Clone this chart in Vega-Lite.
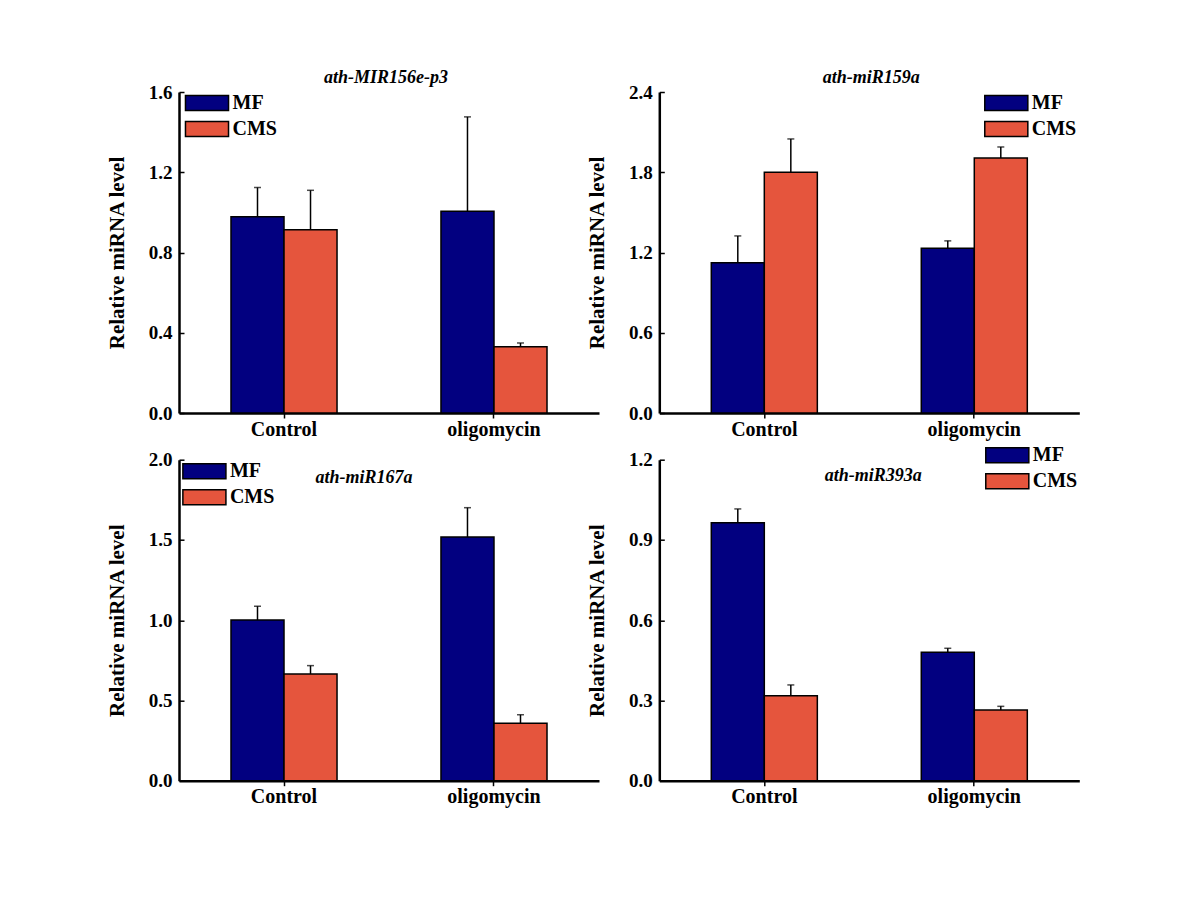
{
  "$schema": "https://vega.github.io/schema/vega-lite/v6.json",
  "background": "white",
  "padding": {"left": 106, "top": 68, "right": 5, "bottom": 5},
  "datasets": {
    "mirna": [
      {"panel": "ath-MIR156e-p3", "group": "Control", "strain": "MF", "value": 0.978, "upper": 1.124},
      {"panel": "ath-MIR156e-p3", "group": "Control", "strain": "CMS", "value": 0.913, "upper": 1.110},
      {"panel": "ath-MIR156e-p3", "group": "oligomycin", "strain": "MF", "value": 1.006, "upper": 1.476},
      {"panel": "ath-MIR156e-p3", "group": "oligomycin", "strain": "CMS", "value": 0.330, "upper": 0.349},
      {"panel": "ath-miR159a", "group": "Control", "strain": "MF", "value": 1.123, "upper": 1.324},
      {"panel": "ath-miR159a", "group": "Control", "strain": "CMS", "value": 1.800, "upper": 2.049},
      {"panel": "ath-miR159a", "group": "oligomycin", "strain": "MF", "value": 1.232, "upper": 1.287},
      {"panel": "ath-miR159a", "group": "oligomycin", "strain": "CMS", "value": 1.907, "upper": 1.989},
      {"panel": "ath-miR167a", "group": "Control", "strain": "MF", "value": 1.001, "upper": 1.087},
      {"panel": "ath-miR167a", "group": "Control", "strain": "CMS", "value": 0.665, "upper": 0.717},
      {"panel": "ath-miR167a", "group": "oligomycin", "strain": "MF", "value": 1.518, "upper": 1.701},
      {"panel": "ath-miR167a", "group": "oligomycin", "strain": "CMS", "value": 0.358, "upper": 0.411},
      {"panel": "ath-miR393a", "group": "Control", "strain": "MF", "value": 0.964, "upper": 1.016},
      {"panel": "ath-miR393a", "group": "Control", "strain": "CMS", "value": 0.318, "upper": 0.358},
      {"panel": "ath-miR393a", "group": "oligomycin", "strain": "MF", "value": 0.480, "upper": 0.495},
      {"panel": "ath-miR393a", "group": "oligomycin", "strain": "CMS", "value": 0.264, "upper": 0.278}
    ]
  },
  "columns": 2,
  "spacing": {"row": 46.7, "column": 60.3},
  "bounds": "flush",
  "resolve": {"scale": {"y": "independent", "color": "independent"}, "legend": {"color": "independent"}},
  "concat": [
    {
      "width": 420, "height": 321,
      "data": {"name": "mirna"},
      "transform": [{"filter": "datum.panel === 'ath-MIR156e-p3'"}],
      "title": {"text": "ath-MIR156e-p3", "dx": -3, "dy": 15.8},
      "encoding": {
        "x": {"field": "group", "type": "nominal", "sort": ["Control", "oligomycin"], "scale": {"paddingInner": 0.495, "paddingOuter": 0.2476}},
        "xOffset": {"field": "strain", "type": "nominal", "sort": ["MF", "CMS"], "scale": {"paddingInner": 0, "paddingOuter": 0}}
      },
      "layer": [
        {"mark": {"type": "bar", "stroke": "black", "strokeWidth": 1.5},
         "encoding": {
           "y": {"field": "value", "type": "quantitative", "title": "Relative miRNA level", "scale": {"domain": [0, 1.6], "nice": false}, "axis": {"values": [0, 0.4, 0.8, 1.2, 1.6]}},
           "color": {"field": "strain", "type": "nominal", "sort": ["MF", "CMS"], "scale": {"domain": ["MF", "CMS"], "range": ["#020080", "#E5553D"]}, "legend": {"legendX": 18, "legendY": 1.1}}
         }},
        {"mark": {"type": "rule", "color": "black", "strokeWidth": 1.5},
         "encoding": {"y": {"field": "value", "type": "quantitative"}, "y2": {"field": "upper"}}},
        {"mark": {"type": "tick", "color": "black", "size": 7, "thickness": 1.5},
         "encoding": {"y": {"field": "upper", "type": "quantitative"}}}
      ]
    },
    {
      "width": 420, "height": 321,
      "data": {"name": "mirna"},
      "transform": [{"filter": "datum.panel === 'ath-miR159a'"}],
      "title": {"text": "ath-miR159a", "dx": 2, "dy": 15.8},
      "encoding": {
        "x": {"field": "group", "type": "nominal", "sort": ["Control", "oligomycin"], "scale": {"paddingInner": 0.495, "paddingOuter": 0.2476}},
        "xOffset": {"field": "strain", "type": "nominal", "sort": ["MF", "CMS"], "scale": {"paddingInner": 0, "paddingOuter": 0}}
      },
      "layer": [
        {"mark": {"type": "bar", "stroke": "black", "strokeWidth": 1.5},
         "encoding": {
           "y": {"field": "value", "type": "quantitative", "title": "Relative miRNA level", "scale": {"domain": [0, 2.4], "nice": false}, "axis": {"values": [0, 0.6, 1.2, 1.8, 2.4]}},
           "color": {"field": "strain", "type": "nominal", "sort": ["MF", "CMS"], "scale": {"domain": ["MF", "CMS"], "range": ["#020080", "#E5553D"]}, "legend": {"legendX": 337, "legendY": 1.1}}
         }},
        {"mark": {"type": "rule", "color": "black", "strokeWidth": 1.5},
         "encoding": {"y": {"field": "value", "type": "quantitative"}, "y2": {"field": "upper"}}},
        {"mark": {"type": "tick", "color": "black", "size": 7, "thickness": 1.5},
         "encoding": {"y": {"field": "upper", "type": "quantitative"}}}
      ]
    },
    {
      "width": 420, "height": 321,
      "data": {"name": "mirna"},
      "transform": [{"filter": "datum.panel === 'ath-miR167a'"}],
      "title": {"text": "ath-miR167a", "dx": -25, "dy": 48.1},
      "encoding": {
        "x": {"field": "group", "type": "nominal", "sort": ["Control", "oligomycin"], "scale": {"paddingInner": 0.495, "paddingOuter": 0.2476}},
        "xOffset": {"field": "strain", "type": "nominal", "sort": ["MF", "CMS"], "scale": {"paddingInner": 0, "paddingOuter": 0}}
      },
      "layer": [
        {"mark": {"type": "bar", "stroke": "black", "strokeWidth": 1.5},
         "encoding": {
           "y": {"field": "value", "type": "quantitative", "title": "Relative miRNA level", "scale": {"domain": [0, 2.0], "nice": false}, "axis": {"values": [0, 0.5, 1.0, 1.5, 2.0]}},
           "color": {"field": "strain", "type": "nominal", "sort": ["MF", "CMS"], "scale": {"domain": ["MF", "CMS"], "range": ["#020080", "#E5553D"]}, "legend": {"legendX": 15.4, "legendY": 1.5}}
         }},
        {"mark": {"type": "rule", "color": "black", "strokeWidth": 1.5},
         "encoding": {"y": {"field": "value", "type": "quantitative"}, "y2": {"field": "upper"}}},
        {"mark": {"type": "tick", "color": "black", "size": 7, "thickness": 1.5},
         "encoding": {"y": {"field": "upper", "type": "quantitative"}}}
      ]
    },
    {
      "width": 420, "height": 321,
      "data": {"name": "mirna"},
      "transform": [{"filter": "datum.panel === 'ath-miR393a'"}],
      "title": {"text": "ath-miR393a", "dx": 4, "dy": 52.1},
      "encoding": {
        "x": {"field": "group", "type": "nominal", "sort": ["Control", "oligomycin"], "scale": {"paddingInner": 0.495, "paddingOuter": 0.2476}},
        "xOffset": {"field": "strain", "type": "nominal", "sort": ["MF", "CMS"], "scale": {"paddingInner": 0, "paddingOuter": 0}}
      },
      "layer": [
        {"mark": {"type": "bar", "stroke": "black", "strokeWidth": 1.5},
         "encoding": {
           "y": {"field": "value", "type": "quantitative", "title": "Relative miRNA level", "scale": {"domain": [0, 1.2], "nice": false}, "axis": {"values": [0, 0.3, 0.6, 0.9, 1.2]}},
           "color": {"field": "strain", "type": "nominal", "sort": ["MF", "CMS"], "scale": {"domain": ["MF", "CMS"], "range": ["#020080", "#E5553D"]}, "legend": {"legendX": 338, "legendY": -14.5}}
         }},
        {"mark": {"type": "rule", "color": "black", "strokeWidth": 1.5},
         "encoding": {"y": {"field": "value", "type": "quantitative"}, "y2": {"field": "upper"}}},
        {"mark": {"type": "tick", "color": "black", "size": 7, "thickness": 1.5},
         "encoding": {"y": {"field": "upper", "type": "quantitative"}}}
      ]
    }
  ],
  "config": {
    "view": {"stroke": null},
    "font": "Liberation Serif",
    "title": {"font": "Liberation Serif", "fontSize": 18, "fontStyle": "italic", "fontWeight": "bold", "color": "black", "anchor": "middle", "frame": "group", "baseline": "alphabetic", "offset": 12},
    "axis": {"grid": false, "domainColor": "black", "tickColor": "black", "labelColor": "black", "titleColor": "black", "labelFont": "Liberation Serif", "titleFont": "Liberation Serif", "labelFontWeight": "bold", "titleFontWeight": "bold"},
    "axisX": {"title": null, "labelAngle": 0, "domainWidth": 2.5, "tickSize": 5, "tickWidth": 1.5, "labelFontSize": 20, "labelPadding": 1},
    "axisY": {"format": ".1f", "domainWidth": 2.5, "tickSize": -5, "tickWidth": 1.5, "labelFontSize": 19, "labelPadding": 12, "titleFontSize": 21, "titlePadding": 21},
    "legend": {"orient": "none", "title": null, "symbolType": "M-2.87,-1H2.87V1H-2.87Z", "symbolSize": 225, "symbolStrokeColor": "black", "symbolStrokeWidth": 1.5, "symbolOpacity": 1, "labelFont": "Liberation Serif", "labelFontWeight": "bold", "labelFontSize": 20, "labelColor": "black", "labelOffset": 15.5, "rowPadding": 4, "padding": 0}
  }
}
